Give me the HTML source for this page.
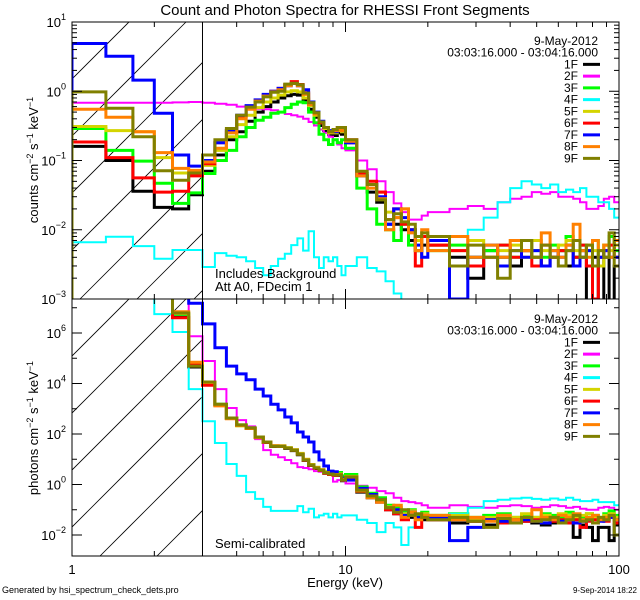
<!DOCTYPE html>
<html><head><meta charset="utf-8"><style>
html,body{margin:0;padding:0;background:#fff;}
svg{display:block;font-family:"Liberation Sans",sans-serif;}
</style></head><body>
<svg id="chart" width="640" height="600" viewBox="0 0 640 600" xmlns="http://www.w3.org/2000/svg">
<defs>
<clipPath id="clipTop"><rect x="72" y="22" width="547" height="277"/></clipPath>
<clipPath id="clipBot"><rect x="72" y="299" width="547" height="257"/></clipPath>
<clipPath id="hatchTop"><rect x="72" y="22" width="130" height="277"/></clipPath>
<clipPath id="hatchBot"><rect x="72" y="299" width="130" height="257"/></clipPath>
</defs>
<rect width="640" height="600" fill="#fff"/>
<text x="345" y="15" font-size="15" text-anchor="middle">Count and Photon Spectra for RHESSI Front Segments</text>
<g id="hatch"></g>
<g id="series"></g>
<g id="axes"></g>
<g id="legends"></g>
<text x="215" y="278" font-size="13">Includes Background</text>
<text x="215" y="291" font-size="13">Att A0, FDecim 1</text>
<text x="215" y="548" font-size="13">Semi-calibrated</text>
<text transform="translate(38,160) rotate(-90)" font-size="13" text-anchor="middle">counts cm<tspan dy="-5" font-size="9">−2</tspan><tspan dy="5"> s</tspan><tspan dy="-5" font-size="9">−1</tspan><tspan dy="5"> keV</tspan><tspan dy="-5" font-size="9">−1</tspan></text>
<text transform="translate(38,428) rotate(-90)" font-size="13" text-anchor="middle">photons cm<tspan dy="-5" font-size="9">−2</tspan><tspan dy="5"> s</tspan><tspan dy="-5" font-size="9">−1</tspan><tspan dy="5"> keV</tspan><tspan dy="-5" font-size="9">−1</tspan></text>
<text x="345" y="587" font-size="13" text-anchor="middle">Energy (keV)</text>
<text x="2" y="593" font-size="9">Generated by hsi_spectrum_check_dets.pro</text>
<text x="637" y="593" font-size="8" text-anchor="end">9-Sep-2014 18:22</text>
</svg>
<script>
const energyEdges=[1,1.33,1.67,2,2.33,2.67,3,
3.33,3.67,4,4.33,4.67,5,5.33,5.67,6,6.33,6.67,7,7.33,7.67,8,8.33,8.67,9,9.33,9.67,10,
11,12,13,14,15,16,17,18,19,20,
24,28,32,36,40,44,48,52,56,60,64,68,72,76,80,84,88,92,96,100];
const segmentNames=["1F","2F","3F","4F","5F","6F","7F","8F","9F"];
const segmentColors=["#000000","#ff00ff","#00ff00","#00ffff","#d4d400","#ff0000","#0000ff","#ff8000","#808000"];
const xTickLabels=["1","10","100"];
const yTopTickExps=[1,0,-1,-2,-3];
const yBotTickExps=[6,4,2,0,-2];

const counts1F=[0.16,0.1,0.036,0.021,0.020,0.032,0.07,0.12,0.2,0.26,0.37,0.5,0.6,0.7,0.8,0.86,0.9,0.88,0.75,0.55,0.42,0.32,0.27,0.24,0.23,0.25,0.24,0.18,0.06,0.035,0.025,0.012,0.012,0.01,0.007,0.005,0.006,0.006,0.004,0.002,0.005,0.004,0.003,0.005,0.004,0.003,0.004,0.005,0.003,0.004,0.005,0.0008,0.004,0.0008,0.004,0.0008,0.003];
const counts2F=[0.68,0.68,0.68,0.68,0.69,0.7,0.68,0.66,0.64,0.6,0.58,0.56,0.55,0.53,0.5,0.47,0.45,0.43,0.4,0.36,0.32,0.28,0.25,0.22,0.2,0.17,0.15,0.14,0.1,0.075,0.05,0.035,0.024,0.018,0.014,0.014,0.016,0.018,0.02,0.022,0.02,0.025,0.028,0.03,0.035,0.033,0.035,0.03,0.03,0.028,0.025,0.02,0.02,0.022,0.028,0.03,0.025];
const counts3F=[0.29,0.14,0.098,0.047,0.024,0.034,0.065,0.1,0.14,0.22,0.3,0.38,0.42,0.48,0.5,0.58,0.65,0.7,0.68,0.5,0.35,0.24,0.2,0.17,0.2,0.18,0.2,0.15,0.04,0.02,0.012,0.01,0.007,0.012,0.006,0.005,0.008,0.005,0.006,0.004,0.005,0.006,0.004,0.007,0.005,0.004,0.006,0.005,0.008,0.004,0.006,0.005,0.007,0.004,0.006,0.008,0.005];
const counts4F=[0.0066,0.0079,0.0058,0.0038,0.0051,0.0051,0.0029,0.0046,0.0042,0.004,0.0035,0.0028,0.0022,0.003,0.0038,0.0045,0.006,0.0075,0.005,0.0095,0.004,0.0028,0.004,0.0035,0.004,0.003,0.0022,0.003,0.004,0.0028,0.0025,0.0018,0.0012,0.0008,0.0005,0.0003,0.0003,0.0005,0.008,0.01,0.015,0.025,0.04,0.05,0.045,0.04,0.045,0.035,0.038,0.035,0.04,0.03,0.03,0.025,0.025,0.02,0.015];
const counts5F=[0.31,0.27,0.26,0.11,0.066,0.067,0.085,0.14,0.22,0.33,0.45,0.58,0.7,0.8,0.88,0.98,1.02,0.98,0.8,0.62,0.45,0.35,0.29,0.25,0.25,0.27,0.26,0.19,0.06,0.045,0.035,0.018,0.015,0.02,0.01,0.007,0.008,0.006,0.005,0.007,0.004,0.005,0.006,0.004,0.007,0.005,0.004,0.006,0.007,0.005,0.004,0.006,0.005,0.003,0.006,0.005,0.006];
const counts6F=[0.185,0.11,0.056,0.035,0.036,0.06,0.09,0.18,0.27,0.43,0.6,0.72,0.88,1.0,1.1,1.25,1.38,1.25,0.95,0.65,0.47,0.35,0.3,0.26,0.28,0.3,0.28,0.2,0.065,0.05,0.035,0.014,0.02,0.012,0.01,0.003,0.008,0.006,0.005,0.003,0.004,0.006,0.004,0.005,0.003,0.006,0.004,0.005,0.005,0.004,0.006,0.003,0.001,0.004,0.005,0.006,0.004];
const counts7F=[4.9,3.2,1.45,0.48,0.12,0.083,0.1,0.18,0.27,0.45,0.62,0.75,0.9,1.0,1.1,1.2,1.3,1.2,1.05,0.7,0.5,0.37,0.3,0.27,0.26,0.28,0.27,0.18,0.06,0.045,0.03,0.012,0.02,0.015,0.01,0.006,0.004,0.007,0.001,0.004,0.006,0.003,0.005,0.004,0.005,0.003,0.005,0.004,0.006,0.003,0.004,0.005,0.003,0.004,0.005,0.004,0.004];
const counts8F=[0.55,0.42,0.26,0.13,0.077,0.072,0.095,0.15,0.25,0.4,0.55,0.72,0.85,0.98,1.05,1.2,1.3,1.2,0.9,0.65,0.47,0.36,0.3,0.26,0.27,0.28,0.27,0.19,0.06,0.04,0.028,0.01,0.015,0.02,0.009,0.005,0.01,0.005,0.008,0.004,0.006,0.004,0.007,0.005,0.004,0.009,0.005,0.004,0.006,0.012,0.005,0.004,0.007,0.005,0.006,0.004,0.007];
const counts9F=[0.98,0.57,0.22,0.071,0.052,0.066,0.12,0.2,0.29,0.45,0.59,0.7,0.83,0.97,1.0,1.27,1.3,1.24,0.94,0.68,0.49,0.36,0.3,0.26,0.28,0.3,0.3,0.2,0.07,0.045,0.027,0.014,0.017,0.013,0.012,0.008,0.009,0.008,0.003,0.006,0.004,0.002,0.005,0.007,0.004,0.006,0.004,0.003,0.005,0.007,0.004,0.006,0.003,0.005,0.004,0.009,0.003];

const photons1F=[1e8,1e8,1e8,1e8,4.2e6,4.5e4,1.0e4,1.4e3,420,220,170,74,46,32,32,27,22,15,9,5.7,4.3,3.5,2.8,2.5,2.3,2.3,1.4,1.8,0.5,0.3,0.2,0.1,0.07,0.08,0.05,0.06,0.04,0.04,0.03,0.035,0.025,0.03,0.03,0.035,0.03,0.025,0.03,0.03,0.03,0.008,0.025,0.02,0.006,0.02,0.02,0.006,0.025];
const photons2F=[1e8,1e8,1e8,1e8,1e8,7.5e5,7.8e4,6e3,1.07e3,355,200,63,23,15,12,9.3,7,4.9,4.5,4,3.4,3.2,2.8,2.4,1.3,1.5,1.4,1.1,0.9,0.75,0.55,0.45,0.3,0.22,0.2,0.18,0.15,0.12,0.15,0.13,0.12,0.14,0.15,0.14,0.12,0.13,0.15,0.14,0.12,0.13,0.11,0.1,0.1,0.12,0.13,0.12,0.1];
const photons3F=[1e8,1e8,1e8,1e8,5.5e6,5.2e4,1.1e4,1.5e3,430,230,175,76,48,33,33,28,23,16,9.5,6,4.6,3.8,3.2,2.8,2.9,3,2.2,2.5,0.8,0.45,0.3,0.15,0.12,0.08,0.1,0.06,0.08,0.06,0.07,0.05,0.06,0.07,0.05,0.06,0.05,0.07,0.06,0.05,0.08,0.06,0.05,0.07,0.06,0.05,0.07,0.09,0.06];
const photons4F=[1e8,1e8,1e8,5.6e6,1.1e6,6e3,320,44,6.5,2.2,0.5,0.27,0.13,0.09,0.09,0.09,0.09,0.14,0.08,0.11,0.05,0.06,0.07,0.05,0.07,0.05,0.06,0.06,0.04,0.03,0.013,0.03,0.02,0.004,0.02,0.04,0.05,0.05,0.07,0.12,0.22,0.25,0.28,0.3,0.27,0.25,0.28,0.25,0.3,0.25,0.22,0.22,0.25,0.2,0.2,0.2,0.15];
const photons5F=[1e8,1e8,1e8,1e8,6e6,5.5e4,1.1e4,1.4e3,410,210,165,72,47,34,34,29,24,17,10,6.2,4.8,3.9,3.1,2.7,2.5,2.6,1.7,2.1,0.65,0.4,0.25,0.13,0.1,0.07,0.09,0.05,0.07,0.05,0.06,0.04,0.05,0.06,0.05,0.07,0.05,0.06,0.05,0.07,0.06,0.05,0.06,0.07,0.05,0.04,0.06,0.07,0.05];
const photons6F=[1e8,1e8,1e8,1e8,4e6,6e4,8.5e3,1.45e3,420,225,170,75,47,33,33,28,23,16,9.2,5.8,4.4,3.6,2.8,2.5,2.3,2.4,1.5,1.9,0.55,0.32,0.2,0.1,0.07,0.04,0.06,0.02,0.05,0.04,0.045,0.035,0.04,0.03,0.04,0.035,0.04,0.045,0.035,0.04,0.03,0.04,0.02,0.035,0.04,0.04,0.035,0.05,0.03];
const photons7F=[1e8,1e8,1e8,1e8,1e8,1.5e7,2.3e6,2.6e5,4.9e4,2.4e4,1.4e4,6e3,3.2e3,1.5e3,900,470,275,120,76,48,19.5,9.3,5.4,3.4,3.2,2.4,1.8,1.5,0.7,0.4,0.25,0.12,0.1,0.06,0.08,0.05,0.06,0.05,0.006,0.02,0.04,0.035,0.03,0.04,0.035,0.03,0.04,0.035,0.04,0.03,0.035,0.04,0.03,0.035,0.04,0.05,0.04];
const photons8F=[1e8,1e8,1e8,1e8,7e6,7e4,1.1e4,1.3e3,400,220,170,75,48,34,33,28,23,16,9.5,6,4.6,3.8,3,2.6,2.4,2.5,1.6,2.0,0.55,0.3,0.2,0.12,0.15,0.05,0.08,0.04,0.06,0.06,0.04,0.05,0.035,0.06,0.04,0.05,0.1,0.05,0.04,0.06,0.05,0.07,0.04,0.05,0.06,0.04,0.05,0.06,0.04];
const photons9F=[1e8,1e8,1e8,1e8,6.2e6,4.9e4,1.15e4,1.5e3,430,230,175,76,48,33,33,28,23,16,9.3,5.9,4.5,3.7,2.9,2.6,2.4,2.4,1.5,2.0,0.6,0.35,0.25,0.12,0.08,0.1,0.06,0.07,0.05,0.04,0.05,0.035,0.02,0.045,0.03,0.05,0.035,0.04,0.05,0.03,0.04,0.06,0.035,0.04,0.03,0.05,0.04,0.06,0.01];

const countsSeries=[counts1F,counts2F,counts3F,counts4F,counts5F,counts6F,counts7F,counts8F,counts9F];
const photonsSeries=[photons1F,photons2F,photons3F,photons4F,photons5F,photons6F,photons7F,photons8F,photons9F];

const NS="http://www.w3.org/2000/svg";
const X0=72,X1=619;
const TOP0=22,TOP1=299,BOT0=299,BOT1=556;
function xScale(e){return X0+(Math.log10(e)-0)/2*(X1-X0);}
function yTop(v){return TOP0+(1-Math.log10(v))*(TOP1-TOP0)/4;}
function yBot(v){return 333+(6-Math.log10(v))*25.25;}
function mk(tag,attrs,parent){const el=document.createElementNS(NS,tag);for(const k in attrs)el.setAttribute(k,attrs[k]);parent.appendChild(el);return el;}

const gH=document.getElementById('hatch');
function hatch(clip,cs,y0,y1){
  const g=mk('g',{'clip-path':'url(#'+clip+')'},gH);
  
  
  for(const c of cs){
    const l=mk('line',{x1:c-y1,y1:y1,x2:c-y0,y2:y0,stroke:'#000','stroke-width':0.8},g);
    
    
  }
}
hatch('hatchTop',[37,94,151,208,265,322,379,436,493],22,299);
hatch('hatchBot',[371,428,485,542,599,656,713,770],299,556);

const gS=document.getElementById('series');
function drawPanel(series,ys,clip,bottom,prefix,startBottom){
  const g=mk('g',{'clip-path':'url(#'+clip+')'},gS);
  
  
  series.forEach((vals,si)=>{
    let d='M'+xScale(energyEdges[0])+' '+(startBottom?bottom:ys(vals[0]));
    d+=' V'+ys(vals[0]).toFixed(1);
    for(let i=0;i<vals.length;i++){
      if(i>0)d+=' V'+ys(vals[i]).toFixed(1);
      d+=' H'+xScale(energyEdges[i+1]).toFixed(1);
    }
    const w=(si===1||si===3)?2:3;
    const p=mk('path',{d:d,fill:'none',stroke:segmentColors[si],'stroke-width':w,'stroke-linejoin':'miter'},g);
    
    
  });
}
drawPanel(countsSeries,yTop,'clipTop',TOP1,'counts',true);
drawPanel(photonsSeries,yBot,'clipBot',BOT1,'photons',false);

const gA=document.getElementById('axes');
const ax=(a)=>{const l=mk('line',Object.assign({stroke:'#000','stroke-width':1},a),gA);return l;};
// boxes
[[TOP0,TOP1,'counts-plot-frame'],[BOT0,BOT1,'photons-plot-frame']].forEach(([a,b,n])=>{
  const r=mk('rect',{x:X0,y:a,width:X1-X0,height:b-a,fill:'none',stroke:'#000','stroke-width':1},gA);
  
  
});
// attenuator boundary at 3 keV
[[TOP0,TOP1],[BOT0,BOT1]].forEach(([a,b])=>{
  const l=ax({x1:xScale(3),y1:a,x2:xScale(3),y2:b});
  
  
});
// x ticks
for(let dec=1;dec<100;dec*=10){
  for(let m=1;m<10;m++){
    const e=dec*m; if(e<=1)continue;
    const x=xScale(e); const len=(m===1)?10:5;
    [[TOP0,1],[TOP1,-1],[BOT0,1],[BOT1,-1]].forEach(([y,s])=>{
      const t=ax({x1:x,y1:y,x2:x,y2:y+s*len});
      
      
    });
  }
}
xTickLabels.forEach((lab,i)=>{
  const t=mk('text',{x:xScale(Math.pow(10,i)),y:574,'font-size':13,'text-anchor':'middle'},gA);
  t.textContent=lab;
  
  
});
// top y ticks
for(let ex=-3;ex<=1;ex++){
  for(let m=1;m<10;m++){
    const v=m*Math.pow(10,ex); if(v>10.001)break;
    const y=yTop(v); const len=(m===1)?10:5;
    [[X0,1],[X1,-1]].forEach(([x,s])=>{
      const t=ax({x1:x,y1:y,x2:x+s*len,y2:y});
      
      
    });
  }
}
function expLabel(exp,y,name){
  const t=mk('text',{x:66,y:y+5,'font-size':13,'text-anchor':'end'},gA);
  
  
  const base=document.createElementNS(NS,'tspan');base.textContent='10';t.appendChild(base);
  const sup=document.createElementNS(NS,'tspan');sup.setAttribute('dy','-7');sup.setAttribute('font-size','9');
  sup.textContent=(exp<0?'−':'')+Math.abs(exp);t.appendChild(sup);
}
yTopTickExps.forEach(e=>expLabel(e,yTop(Math.pow(10,e)),'y-tick-label-counts'));
// bottom y ticks
for(let ex=-2;ex<=7;ex++){
  const y=yBot(Math.pow(10,ex)); const len=(ex%2===0)?10:5;
  [[X0,1],[X1,-1]].forEach(([x,s])=>{
    const t=ax({x1:x,y1:y,x2:x+s*len,y2:y});
    
    
  });
}
yBotTickExps.forEach(e=>expLabel(e,yBot(Math.pow(10,e)),'y-tick-label-photons'));

// legends
const gL=document.getElementById('legends');
function legend(y0,prefix){
  const g=mk('g',{},gL);
  
  
  const d=mk('text',{x:598,y:y0,'font-size':12,'text-anchor':'end'},g);d.textContent='9-May-2012';
  
  
  const tm=mk('text',{x:598,y:y0+11.7,'font-size':12,'text-anchor':'end'},g);tm.textContent='03:03:16.000 - 03:04:16.000';
  
  
  segmentNames.forEach((n,i)=>{
    const y=y0+23.4+i*11.75;
    const t=mk('text',{x:578,y:y,'font-size':12,'text-anchor':'end'},g);t.textContent=n;
    
    
    const l=mk('line',{x1:583,x2:600,y1:y-4,y2:y-4,stroke:segmentColors[i],'stroke-width':3},g);
    
    
  });
}
legend(45,'counts');
legend(323,'photons');
</script>
</body></html>
